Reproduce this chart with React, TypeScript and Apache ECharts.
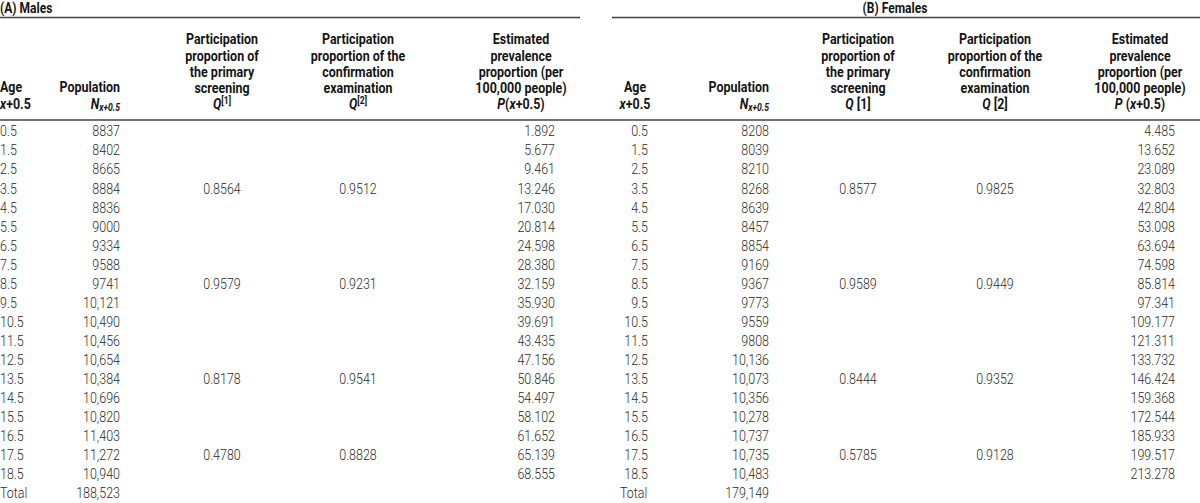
import React, { useEffect, useRef } from "react";
import * as echarts from "echarts";

const ages = ["0.5", "1.5", "2.5", "3.5", "4.5", "5.5", "6.5", "7.5", "8.5", "9.5", "10.5", "11.5", "12.5", "13.5", "14.5", "15.5", "16.5", "17.5", "18.5"];
const malePop = [8837, 8402, 8665, 8884, 8836, 9000, 9334, 9588, 9741, 10121, 10490, 10456, 10654, 10384, 10696, 10820, 11403, 11272, 10940];
const maleTotal = 188523;
const qRows = [3, 8, 13, 17];
const maleQ1 = [0.8564, 0.9579, 0.8178, 0.478];
const maleQ2 = [0.9512, 0.9231, 0.9541, 0.8828];
const maleP = [1.892, 5.677, 9.461, 13.246, 17.03, 20.814, 24.598, 28.38, 32.159, 35.93, 39.691, 43.435, 47.156, 50.846, 54.497, 58.102, 61.652, 65.139, 68.555];
const femalePop = [8208, 8039, 8210, 8268, 8639, 8457, 8854, 9169, 9367, 9773, 9559, 9808, 10136, 10073, 10356, 10278, 10737, 10735, 10483];
const femaleTotal = 179149;
const femaleQ1 = [0.8577, 0.9589, 0.8444, 0.5785];
const femaleQ2 = [0.9825, 0.9449, 0.9352, 0.9128];
const femaleP = [4.485, 13.652, 23.089, 32.803, 42.804, 53.098, 63.694, 74.598, 85.814, 97.341, 109.177, 121.311, 133.732, 146.424, 159.368, 172.544, 185.933, 199.517, 213.278];

const headerQ1Lines = ["Participation", "proportion of", "the primary", "screening"];
const headerQ2Lines = ["Participation", "proportion of the", "confirmation", "examination"];
const headerPLines = ["Estimated", "prevalence", "proportion (per", "100,000 people)"];

const FONT = "Roboto, 'Liberation Sans', sans-serif";
const FS = 14.5;
const SX = 0.86;
const COLOR = "#2b2b2b";
const HCOLOR = "#151515";

const fmtPop = (v: number) => (v >= 10000 ? v.toLocaleString("en-US") : String(v));

const richBase = {
  b: { fontFamily: FONT, fontSize: FS, fontWeight: "bold", fill: HCOLOR, lineHeight: 17 },
  i: { fontFamily: FONT, fontSize: FS, fontWeight: "bold", fontStyle: "italic", fill: HCOLOR, lineHeight: 17 },
  sub: { fontFamily: FONT, fontSize: 10, fontWeight: "bold", fontStyle: "italic", fill: HCOLOR, lineHeight: 10, verticalAlign: "bottom" },
  sup: { fontFamily: FONT, fontSize: 10, fontWeight: "bold", fill: HCOLOR, lineHeight: 10, verticalAlign: "top" },
};

function txt(x: number, y: number, text: string, align: string, extra: any = {}) {
  return {
    type: "text",
    x,
    y,
    scaleX: SX,
    silent: true,
    style: {
      text,
      align,
      verticalAlign: "middle",
      fontFamily: FONT,
      fontSize: FS,
      fontWeight: 300,
      fill: COLOR,
      ...extra,
    },
  };
}
function bold(x: number, y: number, text: string, align: string, extra: any = {}) {
  return txt(x, y, text, align, { fontWeight: "bold", fill: HCOLOR, ...extra });
}
function rich(x: number, y: number, text: string, align: string) {
  return txt(x, y, text, align, { rich: richBase, fontWeight: "bold", fill: HCOLOR });
}

type Cols = {
  ageX: number; ageAlign: string; ageHeadX: number; ageHeadAlign: string; totalX: number;
  popRight: number; q1: number; q2: number; pRight: number; pHead: number;
  q1Sym: string; q2Sym: string; pSym: string; ageSym: string; popSym: string;
};

const rowY = (i: number) => 131 + i * 19.05;
const headY = [39, 55.5, 72, 88, 104];

function buildSection(c: Cols, pop: number[], total: number, q1: number[], q2: number[], p: number[]) {
  const els: any[] = [];
  els.push(bold(c.ageHeadX, 87, "Age", c.ageHeadAlign));
  els.push(rich(c.ageHeadX, 104, c.ageSym, c.ageHeadAlign));
  els.push(bold(c.popRight, 87, "Population", "right"));
  els.push(rich(c.popRight, 104, c.popSym, "right"));
  headerQ1Lines.forEach((s, k) => els.push(bold(c.q1, headY[k], s, "center")));
  els.push(rich(c.q1, headY[4], c.q1Sym, "center"));
  headerQ2Lines.forEach((s, k) => els.push(bold(c.q2, headY[k], s, "center")));
  els.push(rich(c.q2, headY[4], c.q2Sym, "center"));
  headerPLines.forEach((s, k) => els.push(bold(c.pHead, headY[k], s, "center")));
  els.push(rich(c.pHead, headY[4], c.pSym, "center"));
  ages.forEach((a, i) => {
    const y = rowY(i);
    els.push(txt(c.ageX, y, a, c.ageAlign));
    els.push(txt(c.popRight, y, fmtPop(pop[i]), "right"));
    els.push(txt(c.pRight, y, p[i].toFixed(3), "right"));
  });
  qRows.forEach((r, k) => {
    els.push(txt(c.q1, rowY(r), q1[k].toFixed(4), "center"));
    els.push(txt(c.q2, rowY(r), q2[k].toFixed(4), "center"));
  });
  els.push(txt(c.totalX, rowY(ages.length), "Total", "left"));
  els.push(txt(c.popRight, rowY(ages.length), fmtPop(total), "right"));
  return els;
}

const maleCols: Cols = {
  ageX: 0, ageAlign: "left", ageHeadX: 0, ageHeadAlign: "left", totalX: 0,
  popRight: 120, q1: 222, q2: 358, pRight: 555, pHead: 521,
  q1Sym: "{i|Q}{sup|[1]}", q2Sym: "{i|Q}{sup|[2]}", pSym: "{i|P}{b|(}{i|x}{b|+0.5)}",
  ageSym: "{i|x}{b|+0.5}", popSym: "{i|N}{sub|x+0.5}",
};
const femaleCols: Cols = {
  ageX: 648, ageAlign: "right", ageHeadX: 635, ageHeadAlign: "center", totalX: 620,
  popRight: 769, q1: 858, q2: 995, pRight: 1175, pHead: 1140,
  q1Sym: "{i|Q}{b| [1]}", q2Sym: "{i|Q}{b| [2]}", pSym: "{i|P}{b| (}{i|x}{b|+0.5)}",
  ageSym: "{i|x}{b|+0.5}", popSym: "{i|N}{sub|x+0.5}",
};

export default function App() {
  const ref = useRef<HTMLDivElement>(null);
  useEffect(() => {
    document.body.style.margin = "0";
    const chart = echarts.init(ref.current!, null, { renderer: "svg" });
    const lineStyle = { stroke: "#444", lineWidth: 1.5 };
    const elements: any[] = [
      bold(0, 8.5, "(A) Males", "left", { fontSize: 14 }),
      bold(895, 8.5, "(B) Females", "center", { fontSize: 14 }),
      { type: "line", silent: true, shape: { x1: 0, y1: 17.5, x2: 580, y2: 17.5 }, style: lineStyle },
      { type: "line", silent: true, shape: { x1: 612, y1: 17.5, x2: 1200, y2: 17.5 }, style: lineStyle },
      { type: "line", silent: true, shape: { x1: 0, y1: 120, x2: 1200, y2: 120 }, style: lineStyle },
      ...buildSection(maleCols, malePop, maleTotal, maleQ1, maleQ2, maleP),
      ...buildSection(femaleCols, femalePop, femaleTotal, femaleQ1, femaleQ2, femaleP),
    ];
    chart.setOption({
      animation: false,
      backgroundColor: "#ffffff",
      graphic: { elements },
    });
    return () => chart.dispose();
  }, []);
  return <div ref={ref} style={{ width: 1200, height: 503 }} />;
}
